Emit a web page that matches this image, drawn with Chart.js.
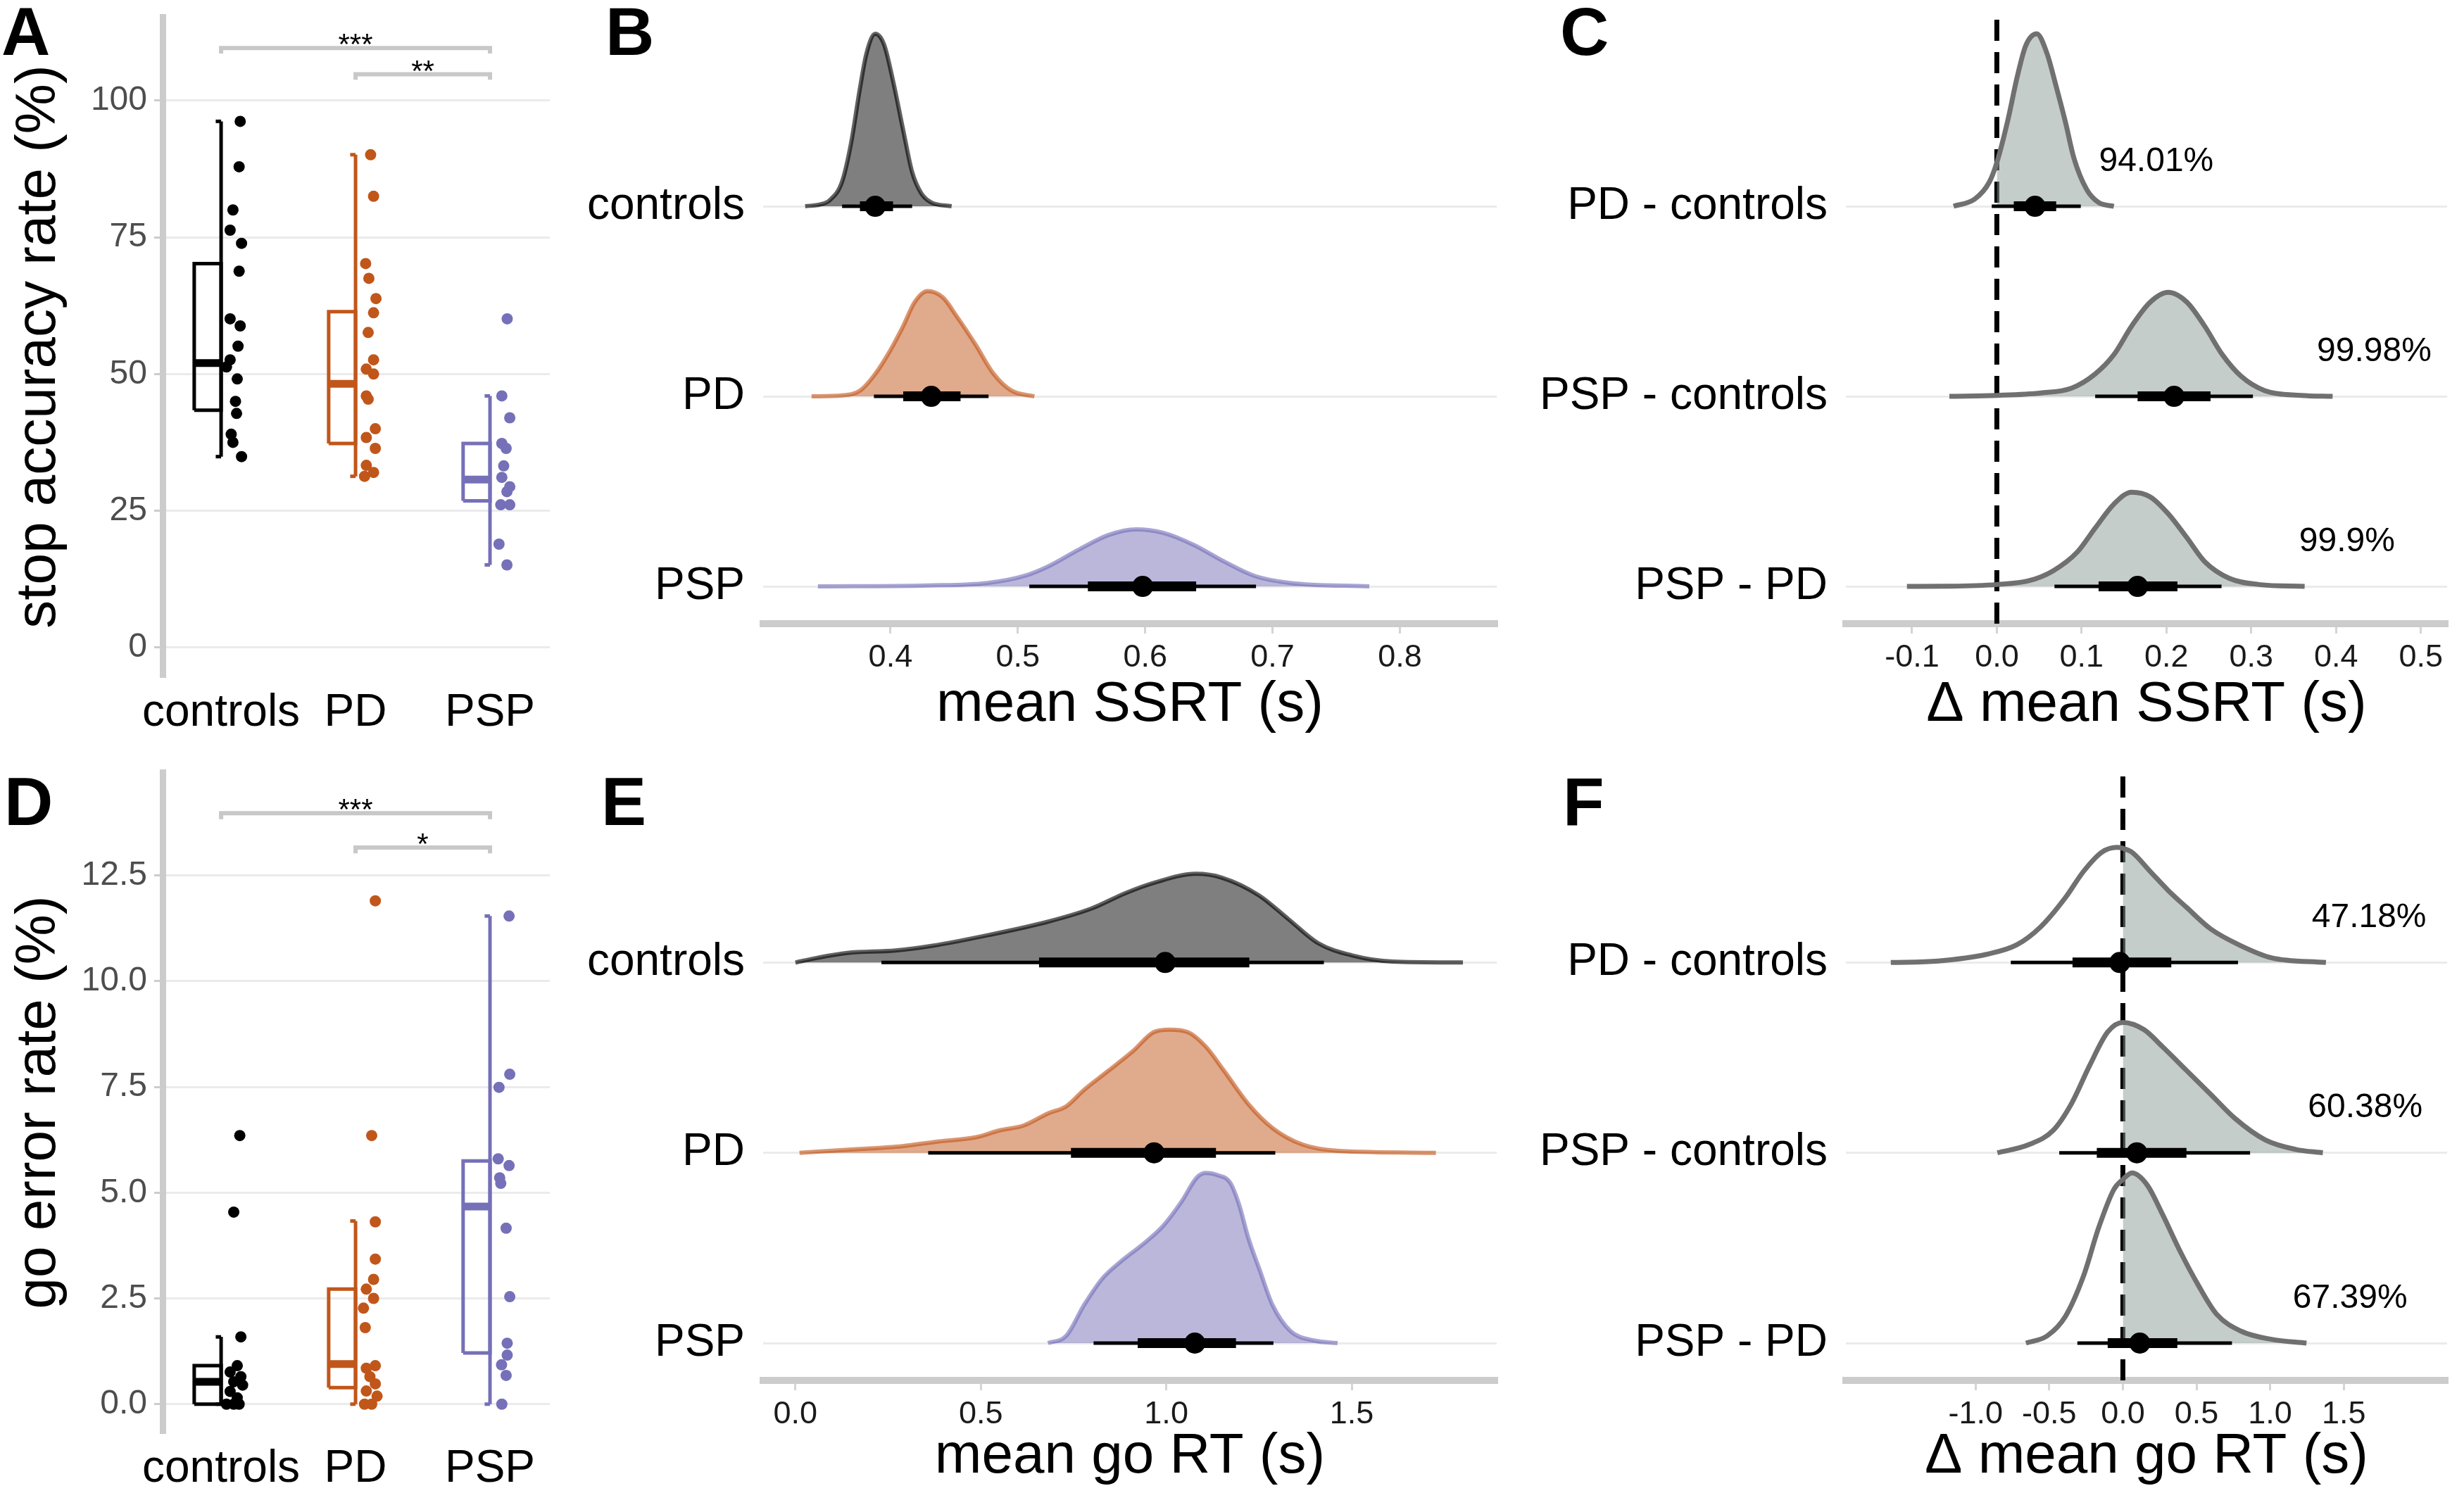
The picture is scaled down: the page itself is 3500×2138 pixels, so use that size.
<!DOCTYPE html>
<html>
<head>
<meta charset="utf-8">
<script src="https://cdn.jsdelivr.net/npm/chart.js@4.4.1/dist/chart.umd.min.js"></script>
<style>
  html, body { margin: 0; padding: 0; background: #fff; }
  #fig { position: relative; width: 3500px; height: 2138px; overflow: hidden; font-family: "Liberation Sans", Arial, sans-serif; }
  .panel { position: absolute; }
  .letter { position: absolute; font-weight: bold; font-size: 96px; line-height: 96px; color: #000; }
</style>
</head>
<body>
<div id="fig">
  <div class="panel" style="left:0;top:0;width:800px;height:1070px"><canvas id="chartA"></canvas></div>
  <div class="panel" style="left:800px;top:0;width:1350px;height:1070px"><canvas id="chartB"></canvas></div>
  <div class="panel" style="left:2150px;top:0;width:1350px;height:1070px"><canvas id="chartC"></canvas></div>
  <div class="panel" style="left:0;top:1070px;width:800px;height:1068px"><canvas id="chartD"></canvas></div>
  <div class="panel" style="left:800px;top:1070px;width:1350px;height:1068px"><canvas id="chartE"></canvas></div>
  <div class="panel" style="left:2150px;top:1070px;width:1350px;height:1068px"><canvas id="chartF"></canvas></div>
  <div class="letter" style="left:2px;top:-3px">A</div>
  <div class="letter" style="left:860px;top:-3px">B</div>
  <div class="letter" style="left:2216px;top:-3px">C</div>
  <div class="letter" style="left:6px;top:1091px">D</div>
  <div class="letter" style="left:854px;top:1091px">E</div>
  <div class="letter" style="left:2220px;top:1091px">F</div>
</div>
<script>
// ---- data ----
const groups = ['controls', 'PD', 'PSP'];
const diffs = ['PD - controls', 'PSP - controls', 'PSP - PD'];

// A: stop accuracy rate (%)
const stopAccControls = [96.2, 87.9, 80.0, 76.3, 73.9, 68.8, 60.1, 58.8, 55.1, 52.6, 51.3, 49.1, 45.0, 42.8, 39.0, 37.5, 34.9];
const stopAccControlsJitter = [0.142, 0.134, 0.088, 0.067, 0.152, 0.134, 0.067, 0.142, 0.126, 0.067, 0.040, 0.120, 0.107, 0.115, 0.075, 0.088, 0.152];
const stopAccPD = [90.1, 82.5, 70.2, 67.5, 63.8, 61.2, 57.6, 52.6, 50.9, 50.0, 46.0, 45.4, 40.0, 38.4, 36.4, 33.3, 32.0, 31.3];
const stopAccPDJitter = [0.112, 0.134, 0.075, 0.099, 0.152, 0.134, 0.094, 0.134, 0.080, 0.134, 0.080, 0.094, 0.147, 0.080, 0.147, 0.080, 0.134, 0.067];
const stopAccPSP = [60.1, 46.0, 42.0, 37.3, 36.4, 33.2, 31.1, 29.4, 28.5, 26.1, 26.1, 18.9, 15.1];
const stopAccPSPJitter = [0.128, 0.088, 0.147, 0.088, 0.120, 0.102, 0.088, 0.147, 0.126, 0.080, 0.147, 0.067, 0.126];
// min, q1, median, q3, max
const stopAccBox = [[34.9, 43.4, 52.0, 70.2, 96.2], [31.3, 37.3, 48.2, 61.4, 90.1], [15.1, 26.8, 30.7, 37.3, 46.0]];
const stopAccTicks = [0, 25, 50, 75, 100];
const stopAccSig = [[1, 3, 109.6, '***'], [2, 3, 104.8, '**']];

// D: go error rate (%)
const goErrControls = [6.35, 4.54, 1.59, 0.91, 0.76, 0.65, 0.53, 0.45, 0.30, 0.15, 0, 0, 0];
const goErrControlsJitter = [0.139, 0.094, 0.147, 0.120, 0.067, 0.147, 0.094, 0.160, 0.067, 0.120, 0.040, 0.094, 0.134];
const goErrPD = [11.9, 6.35, 4.31, 3.43, 2.95, 2.72, 2.5, 2.27, 1.81, 0.91, 0.85, 0.65, 0.48, 0.31, 0.19, 0, 0];
const goErrPDJitter = [0.147, 0.120, 0.147, 0.147, 0.134, 0.080, 0.134, 0.059, 0.072, 0.147, 0.080, 0.107, 0.147, 0.080, 0.160, 0.067, 0.120];
const goErrPSP = [11.54, 7.8, 7.49, 5.8, 5.64, 5.35, 5.22, 4.16, 2.54, 1.44, 1.16, 0.93, 0.68, 0];
const goErrPSPJitter = [0.142, 0.147, 0.067, 0.061, 0.142, 0.072, 0.080, 0.120, 0.147, 0.128, 0.128, 0.086, 0.120, 0.088];
const goErrBox = [[0, 0, 0.53, 0.91, 1.59], [0, 0.39, 0.95, 2.72, 4.33], [0, 1.21, 4.67, 5.75, 11.54]];
const goErrTicks = [0, 2.5, 5, 7.5, 10, 12.5];
const goErrSig = [[1, 3, 13.97, '***'], [2, 3, 13.16, '*']];

// B: posterior of mean SSRT (s): [x, density height]
const ssrtCurveControls = [[0.333, 0], [0.345, 0.01], [0.352, 0.03], [0.362, 0.13], [0.369, 0.33], [0.376, 0.62], [0.381, 0.80], [0.388, 0.907], [0.395, 0.85], [0.402, 0.66], [0.410, 0.40], [0.417, 0.18], [0.424, 0.07], [0.432, 0.02], [0.448, 0]];
const ssrtCurvePD = [[0.338, 0], [0.362, 0.005], [0.376, 0.030], [0.388, 0.118], [0.400, 0.244], [0.410, 0.370], [0.419, 0.496], [0.429, 0.554], [0.441, 0.521], [0.452, 0.421], [0.467, 0.270], [0.481, 0.118], [0.495, 0.030], [0.513, 0]];
const ssrtCurvePSP = [[0.343, 0], [0.429, 0.005], [0.476, 0.018], [0.505, 0.055], [0.524, 0.106], [0.548, 0.194], [0.571, 0.270], [0.593, 0.300], [0.614, 0.282], [0.638, 0.219], [0.662, 0.131], [0.686, 0.055], [0.714, 0.018], [0.776, 0]];
const ssrtMedian = [0.388, 0.432, 0.598];
const ssrtCI66 = [[0.376, 0.402], [0.410, 0.455], [0.555, 0.640]];
const ssrtCI95 = [[0.362, 0.417], [0.387, 0.477], [0.509, 0.687]];
const ssrtTicks = [0.4, 0.5, 0.6, 0.7, 0.8];

// C: differences in mean SSRT (s)
const dSsrtCurvePDc = [[-0.051, 0], [-0.026, 0.038], [-0.009, 0.126], [0, 0.23], [0.013, 0.453], [0.024, 0.680], [0.034, 0.844], [0.047, 0.907], [0.059, 0.806], [0.070, 0.630], [0.081, 0.441], [0.091, 0.252], [0.106, 0.088], [0.120, 0.020], [0.138, 0]];
const dSsrtCurvePSPc = [[-0.056, 0], [0, 0.005], [0.052, 0.018], [0.088, 0.043], [0.116, 0.118], [0.138, 0.219], [0.159, 0.370], [0.181, 0.496], [0.202, 0.547], [0.224, 0.496], [0.245, 0.370], [0.266, 0.219], [0.288, 0.106], [0.316, 0.030], [0.359, 0.005], [0.396, 0]];
const dSsrtCurvePSPpd = [[-0.106, 0], [-0.055, 0.001], [0, 0.010], [0.038, 0.030], [0.066, 0.081], [0.095, 0.181], [0.116, 0.307], [0.138, 0.433], [0.159, 0.496], [0.181, 0.471], [0.202, 0.383], [0.224, 0.257], [0.245, 0.131], [0.274, 0.043], [0.309, 0.010], [0.363, 0]];
const dSsrtMedian = [0.045, 0.209, 0.166];
const dSsrtCI66 = [[0.020, 0.070], [0.166, 0.252], [0.120, 0.213]];
const dSsrtCI95 = [[-0.006, 0.099], [0.116, 0.302], [0.068, 0.265]];
const dSsrtProb = ['94.01%', '99.98%', '99.9%'];
const dSsrtTicks = [-0.1, 0, 0.1, 0.2, 0.3, 0.4, 0.5];

// E: posterior of mean go RT (s)
const goRtCurveControls = [[0.0, 0], [0.06, 0.025], [0.14, 0.05], [0.27, 0.063], [0.37, 0.088], [0.52, 0.144], [0.68, 0.214], [0.80, 0.285], [0.89, 0.365], [0.97, 0.421], [1.08, 0.466], [1.15, 0.446], [1.25, 0.353], [1.33, 0.227], [1.41, 0.101], [1.50, 0.038], [1.61, 0.005], [1.80, 0]];
const goRtCurvePD = [[0.011, 0], [0.158, 0.018], [0.288, 0.035], [0.387, 0.060], [0.485, 0.081], [0.551, 0.118], [0.616, 0.144], [0.681, 0.207], [0.730, 0.244], [0.779, 0.332], [0.845, 0.433], [0.910, 0.534], [0.967, 0.635], [1.008, 0.647], [1.057, 0.635], [1.106, 0.559], [1.155, 0.433], [1.221, 0.257], [1.286, 0.131], [1.368, 0.043], [1.466, 0.010], [1.727, 0]];
const goRtCurvePSP = [[0.681, 0], [0.730, 0.038], [0.779, 0.202], [0.828, 0.340], [0.877, 0.428], [0.943, 0.529], [0.992, 0.617], [1.041, 0.743], [1.082, 0.869], [1.106, 0.894], [1.139, 0.882], [1.172, 0.844], [1.196, 0.730], [1.221, 0.554], [1.253, 0.378], [1.286, 0.202], [1.335, 0.063], [1.400, 0.013], [1.462, 0]];
const goRtMedian = [0.997, 0.967, 1.077];
const goRtCI66 = [[0.657, 1.224], [0.743, 1.134], [0.923, 1.188]];
const goRtCI95 = [[0.232, 1.425], [0.358, 1.294], [0.804, 1.289]];
const goRtTicks = [0, 0.5, 1.0, 1.5];

// F: differences in mean go RT (s)
const dGoRtCurvePDc = [[-1.576, 0], [-1.255, 0.008], [-0.926, 0.043], [-0.720, 0.093], [-0.556, 0.189], [-0.391, 0.340], [-0.267, 0.479], [-0.144, 0.579], [-0.041, 0.605], [0, 0.60], [0.062, 0.579], [0.185, 0.479], [0.309, 0.378], [0.432, 0.290], [0.597, 0.176], [0.802, 0.088], [1.008, 0.025], [1.379, 0]];
const dGoRtCurvePSPc = [[-0.852, 0], [-0.638, 0.043], [-0.473, 0.118], [-0.350, 0.257], [-0.226, 0.458], [-0.103, 0.635], [0, 0.685], [0.144, 0.647], [0.267, 0.559], [0.432, 0.433], [0.597, 0.307], [0.761, 0.181], [0.967, 0.068], [1.173, 0.018], [1.358, 0]];
const dGoRtCurvePSPpd = [[-0.658, 0], [-0.514, 0.038], [-0.391, 0.139], [-0.267, 0.353], [-0.165, 0.605], [-0.062, 0.806], [0, 0.86], [0.062, 0.894], [0.165, 0.831], [0.267, 0.680], [0.391, 0.479], [0.514, 0.302], [0.638, 0.151], [0.802, 0.063], [1.008, 0.020], [1.247, 0]];
const dGoRtMedian = [-0.021, 0.095, 0.115];
const dGoRtCI66 = [[-0.342, 0.329], [-0.177, 0.432], [-0.103, 0.370]];
const dGoRtCI95 = [[-0.761, 0.782], [-0.432, 0.864], [-0.309, 0.741]];
const dGoRtProb = ['47.18%', '60.38%', '67.39%'];
const dGoRtTicks = [-1.0, -0.5, 0, 0.5, 1.0, 1.5];

// ---- styling ----
const FONT = '"Liberation Sans", Arial, sans-serif';
Chart.defaults.font.family = FONT;
Chart.defaults.color = '#000';
Chart.defaults.elements.point.radius = 0;

const groupColor = ['#000000', '#c1561a', '#7570b8'];
const groupFill = ['rgba(0,0,0,0.5)', 'rgba(193,86,26,0.5)', 'rgba(117,112,184,0.5)'];
const groupLine = ['rgba(0,0,0,0.62)', 'rgba(193,86,26,0.62)', 'rgba(117,112,184,0.62)'];
const diffFill = ['rgba(140,155,152,0.5)', 'rgba(140,155,152,0.5)', 'rgba(140,155,152,0.5)'];
const diffLine = ['#707070', '#707070', '#707070'];
const AXIS_GREY = '#cccccc';
const GRID_GREY = '#ebebeb';
const RIDGE_MIN = 0.804, RIDGE_MAX = 4.0;

// text drawn at data coordinates
function notes(items) {
  return {
    id: 'notes',
    afterDatasetsDraw(chart) {
      const { ctx, scales } = chart;
      ctx.save();
      items.forEach(it => {
        ctx.font = it.font;
        ctx.fillStyle = '#000';
        ctx.textAlign = 'center';
        ctx.textBaseline = it.baseline || 'middle';
        ctx.fillText(it.text, scales.x.getPixelForValue(it.x), scales.y.getPixelForValue(it.y) + (it.dy || 0));
      });
      ctx.restore();
    }
  };
}

function seg(points, color, width, order) {
  return {
    data: points.map(p => ({ x: p[0], y: p[1] })),
    borderColor: color, borderWidth: width, fill: false,
    borderJoinStyle: 'miter', tension: 0, order: order
  };
}

function fixTicks(vals) {
  return s => { s.ticks = vals.map(v => ({ value: v })); };
}
// fixed box sizes, and no extra room for edge labels
function fixWidth(w) {
  return s => { s.width = w; s.paddingTop = 0; s.paddingBottom = 0; s.paddingLeft = 0; s.paddingRight = 0; };
}
function fixHeight(h) {
  return s => { s.height = h; s.paddingTop = 0; s.paddingBottom = 0; s.paddingLeft = 0; s.paddingRight = 0; };
}

// A / D : half boxplot with jittered points
function boxChart(id, cfg) {
  const datasets = [];
  const BW = 0.2, CAP = 0.04;
  cfg.box.forEach((b, i) => {
    const c = i + 1, col = groupColor[i];
    const [lo, q1, med, q3, hi] = b;
    datasets.push(seg([[c - BW, q1], [c - BW, q3], [c, q3], [c, q1], [c - BW, q1]], col, 5, 20));
    datasets.push(seg([[c - BW, med], [c, med]], col, 11, 20));
    datasets.push(seg([[c, lo], [c, hi]], col, 5, 20));
    datasets.push(seg([[c - CAP, hi], [c, hi]], col, 5, 20));
    datasets.push(seg([[c - CAP, lo], [c, lo]], col, 5, 20));
    datasets.push({
      data: cfg.values[i].map((v, k) => ({ x: c + cfg.jitter[i][k], y: v })),
      showLine: false, pointRadius: 8, pointBorderWidth: 0,
      pointBackgroundColor: col, order: 10
    });
  });
  const items = [];
  cfg.sig.forEach(s => {
    const [a, b, lev, txt] = s;
    datasets.push(seg([[a, lev - cfg.tip], [a, lev], [b, lev], [b, lev - cfg.tip]], '#c8c8c8', 6, 30));
    items.push({ x: (a + b) / 2, y: lev, text: txt, font: '42px ' + FONT, baseline: 'alphabetic', dy: 9 });
  });
  return new Chart(document.getElementById(id), {
    type: 'line',
    data: { datasets },
    plugins: [notes(items)],
    options: {
      responsive: true, maintainAspectRatio: false, animation: false, events: [],
      devicePixelRatio: 1,
      layout: { padding: { top: cfg.top, right: 19, left: 0, bottom: 0 } },
      plugins: { legend: { display: false }, tooltip: { enabled: false } },
      scales: {
        x: {
          type: 'linear', min: 0.565, max: 3.445,
          afterBuildTicks: fixTicks([1, 2, 3]),
          afterFit: fixHeight(cfg.xh),
          grid: { display: false, drawTicks: false },
          border: { display: false },
          ticks: { callback: v => groups[v - 1], font: { size: 64 }, color: '#000', padding: 14, maxRotation: 0 }
        },
        y: {
          type: 'linear', min: cfg.ymin, max: cfg.ymax,
          afterBuildTicks: fixTicks(cfg.ticks),
          afterFit: fixWidth(231),
          grid: { color: GRID_GREY, lineWidth: 3, tickColor: AXIS_GREY, tickLength: 12 },
          border: { display: true, color: AXIS_GREY, width: 9 },
          ticks: { callback: cfg.fmt, font: { size: 48 }, color: '#4d4d4d', padding: 10 },
          title: { display: true, text: cfg.title, font: { size: 80 }, color: '#000', padding: { top: 8, bottom: 0 } }
        }
      }
    }
  });
}

// B / C / E / F : ridgeline posteriors with point + intervals
function ridgeChart(id, cfg) {
  const n = cfg.labels.length;
  const datasets = [];
  const items = [];
  const smooth = { cubicInterpolationMode: 'monotone', borderJoinStyle: 'round' };
  cfg.curves.forEach((curve, i) => {
    const b = n - i;
    const pts = curve.map(p => ({ x: p[0], y: b + p[1] }));
    if (cfg.splitZero) {
      datasets.push(Object.assign({ data: pts.filter(p => p.x >= 0), borderWidth: 0, backgroundColor: cfg.fill[i], fill: { value: b }, order: 40 }, smooth));
      datasets.push(Object.assign({ data: pts, borderColor: cfg.line[i], borderWidth: 7, fill: false, order: 30 }, smooth));
    } else {
      datasets.push(Object.assign({ data: pts, borderColor: cfg.line[i], borderWidth: 6, backgroundColor: cfg.fill[i], fill: { value: b }, order: 30 }, smooth));
    }
    datasets.push(seg([[cfg.ci95[i][0], b], [cfg.ci95[i][1], b]], '#000', 5, 3));
    datasets.push(seg([[cfg.ci66[i][0], b], [cfg.ci66[i][1], b]], '#000', 14, 2));
    datasets.push({ data: [{ x: cfg.median[i], y: b }], showLine: false, pointRadius: 15, pointBorderWidth: 0, pointBackgroundColor: '#000', order: 1 });
    if (cfg.prob) items.push({ x: cfg.probX[i], y: b + 0.235, text: cfg.prob[i], font: '48px ' + FONT });
  });
  if (cfg.splitZero) {
    datasets.push(Object.assign(seg([[0, RIDGE_MIN], [0, RIDGE_MAX]], '#000', 7, 90), { borderDash: [30, 16] }));
  }
  return new Chart(document.getElementById(id), {
    type: 'line',
    data: { datasets },
    plugins: [notes(items)],
    options: {
      responsive: true, maintainAspectRatio: false, animation: false, events: [],
      devicePixelRatio: 1,
      layout: { padding: { top: cfg.top, right: 24, left: 0, bottom: 0 } },
      plugins: { legend: { display: false }, tooltip: { enabled: false } },
      scales: {
        x: {
          type: 'linear', min: cfg.xmin, max: cfg.xmax,
          afterBuildTicks: fixTicks(cfg.ticks),
          afterFit: fixHeight(cfg.xh),
          grid: { drawOnChartArea: false, drawTicks: true, tickLength: 14, color: '#d4d4d4', lineWidth: 3 },
          border: { display: true, color: AXIS_GREY, width: 10 },
          ticks: { callback: v => v.toFixed(1), font: { size: 45 }, color: '#1a1a1a', padding: 8, maxRotation: 0 },
          title: { display: true, text: cfg.title, font: { size: 80 }, color: '#000', padding: { top: 0, bottom: 20 } }
        },
        y: {
          type: 'linear', min: RIDGE_MIN, max: RIDGE_MAX,
          afterBuildTicks: fixTicks([1, 2, 3]),
          afterFit: fixWidth(cfg.yw),
          grid: { color: GRID_GREY, lineWidth: 3, drawTicks: false },
          border: { display: false },
          ticks: { callback: v => cfg.labels[n - v], font: { size: 64 }, color: '#000', padding: 26 }
        }
      }
    }
  });
}

boxChart('chartA', {
  values: [stopAccControls, stopAccPD, stopAccPSP],
  jitter: [stopAccControlsJitter, stopAccPDJitter, stopAccPSPJitter],
  box: stopAccBox, sig: stopAccSig, tip: 1.0,
  ymin: -5.3, ymax: 115.3, ticks: stopAccTicks, fmt: v => String(v),
  title: 'stop accuracy rate (%)', top: 24, xh: 109
});

boxChart('chartD', {
  values: [goErrControls, goErrPD, goErrPSP],
  jitter: [goErrControlsJitter, goErrPDJitter, goErrPSPJitter],
  box: goErrBox, sig: goErrSig, tip: 0.14,
  ymin: -0.67, ymax: 14.94, ticks: goErrTicks, fmt: v => v.toFixed(1),
  title: 'go error rate (%)', top: 27, xh: 103
});

ridgeChart('chartB', {
  labels: groups, curves: [ssrtCurveControls, ssrtCurvePD, ssrtCurvePSP],
  fill: groupFill, line: groupLine,
  median: ssrtMedian, ci66: ssrtCI66, ci95: ssrtCI95,
  xmin: 0.3, xmax: 0.876, ticks: ssrtTicks, title: 'mean SSRT (s)',
  yw: 284, top: 23, xh: 184
});

ridgeChart('chartC', {
  labels: diffs, curves: [dSsrtCurvePDc, dSsrtCurvePSPc, dSsrtCurvePSPpd],
  fill: diffFill, line: diffLine, splitZero: true,
  median: dSsrtMedian, ci66: dSsrtCI66, ci95: dSsrtCI95,
  prob: dSsrtProb, probX: [0.188, 0.445, 0.413],
  xmin: -0.178, xmax: 0.531, ticks: dSsrtTicks, title: 'Δ mean SSRT (s)',
  yw: 472, top: 23, xh: 184
});

ridgeChart('chartE', {
  labels: groups, curves: [goRtCurveControls, goRtCurvePD, goRtCurvePSP],
  fill: groupFill, line: groupLine,
  median: goRtMedian, ci66: goRtCI66, ci95: goRtCI95,
  xmin: -0.087, xmax: 1.891, ticks: goRtTicks, title: 'mean go RT (s)',
  yw: 284, top: 27, xh: 177
});

ridgeChart('chartF', {
  labels: diffs, curves: [dGoRtCurvePDc, dGoRtCurvePSPc, dGoRtCurvePSPpd],
  fill: diffFill, line: diffLine, splitZero: true,
  median: dGoRtMedian, ci66: dGoRtCI66, ci95: dGoRtCI95,
  prob: dGoRtProb, probX: [1.672, 1.646, 1.543],
  xmin: -1.881, xmax: 2.202, ticks: dGoRtTicks, title: 'Δ mean go RT (s)',
  yw: 472, top: 27, xh: 177
});
</script>
</body>
</html>
